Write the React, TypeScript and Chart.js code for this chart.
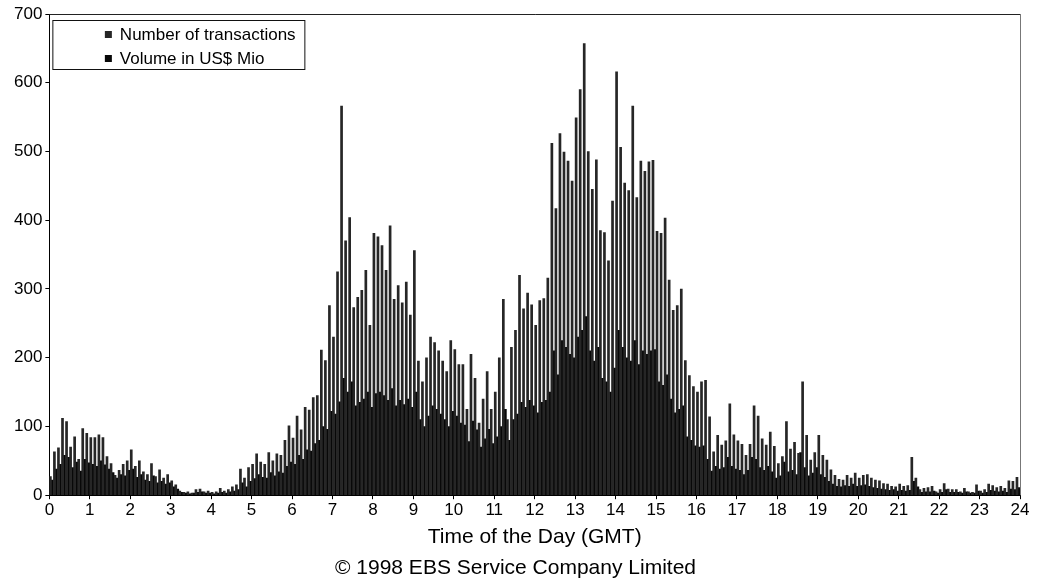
import React, { useEffect, useRef } from "react";
import { Chart, registerables } from "chart.js";

Chart.register(...registerables);

// 6-minute bins, 10 per hour, 0h..24h
const binsPerHour = 10;
const hourTicks = ["0","1","2","3","4","5","6","7","8","9","10","11","12","13","14","15","16","17","18","19","20","21","22","23","24"];
const seriesNames = ["Number of transactions", "Volume in US$ Mio"];
const axisTitle = "Time of the Day (GMT)";
const footer = "\u00A9 1998 EBS Service Company Limited";

const transactions = [
  27, 63, 69, 112, 107, 70, 85, 52, 97, 90, // 0h
  84, 84, 88, 84, 56, 46, 29, 36, 45, 50, // 1h
  66, 42, 50, 34, 30, 46, 27, 37, 25, 30, // 2h
  21, 15, 6, 4, 5, 3, 8, 9, 5, 6, // 3h
  4, 5, 10, 6, 8, 12, 15, 38, 25, 40, // 4h
  45, 60, 48, 45, 62, 50, 60, 58, 80, 101, // 5h
  83, 115, 95, 128, 124, 142, 145, 211, 196, 276, // 6h
  230, 325, 566, 370, 404, 273, 288, 298, 327, 247, // 7h
  381, 376, 363, 327, 392, 285, 305, 280, 310, 262, // 8h
  356, 195, 165, 200, 230, 222, 210, 195, 180, 225, // 9h
  212, 190, 190, 125, 205, 170, 105, 140, 180, 125, // 10h
  150, 200, 285, 110, 215, 240, 320, 271, 294, 277, // 11h
  247, 283, 286, 316, 512, 417, 526, 499, 486, 457, // 12h
  549, 590, 657, 500, 445, 488, 385, 382, 341, 428, // 13h
  616, 506, 454, 443, 566, 433, 486, 471, 485, 487, // 14h
  384, 381, 403, 313, 269, 276, 300, 196, 174, 158, // 15h
  150, 165, 167, 114, 63, 87, 73, 79, 133, 88, // 16h
  79, 74, 58, 74, 130, 115, 82, 73, 92, 71, // 17h
  46, 56, 107, 67, 77, 61, 165, 87, 51, 62, // 18h
  87, 58, 51, 37, 29, 23, 22, 29, 25, 32, // 19h
  25, 29, 30, 25, 22, 21, 17, 16, 13, 12, // 20h
  16, 13, 14, 55, 25, 8, 10, 11, 13, 5, // 21h
  8, 17, 9, 8, 8, 5, 10, 5, 4, 15, // 22h
  6, 8, 16, 14, 11, 13, 10, 21, 20, 26, // 23h
];

const volume = [
  22, 38, 45, 58, 55, 40, 48, 35, 52, 47, // 0h
  45, 42, 50, 44, 38, 33, 25, 30, 28, 36, // 1h
  38, 26, 30, 22, 20, 28, 18, 20, 16, 18, // 2h
  12, 9, 4, 3, 2, 3, 4, 5, 3, 3, // 3h
  2, 3, 4, 3, 5, 6, 8, 18, 12, 20, // 4h
  24, 30, 26, 25, 33, 28, 34, 32, 42, 48, // 5h
  45, 58, 52, 66, 64, 75, 80, 100, 96, 122, // 6h
  118, 136, 170, 150, 165, 130, 135, 140, 150, 128, // 7h
  148, 150, 145, 138, 155, 130, 138, 132, 140, 128, // 8h
  150, 110, 100, 115, 130, 125, 118, 110, 100, 122, // 9h
  115, 105, 102, 78, 108, 95, 70, 82, 96, 75, // 10h
  85, 100, 125, 80, 110, 118, 135, 128, 138, 130, // 11h
  120, 135, 138, 150, 210, 175, 225, 215, 205, 200, // 12h
  230, 240, 260, 210, 195, 215, 170, 165, 150, 185, // 13h
  240, 215, 200, 195, 225, 190, 210, 205, 210, 212, // 14h
  165, 160, 175, 140, 120, 125, 130, 85, 80, 72, // 15h
  70, 72, 52, 35, 42, 38, 40, 55, 42, 38, // 16h
  36, 30, 36, 55, 52, 40, 36, 42, 34, 25, // 17h
  28, 48, 34, 36, 30, 62, 40, 28, 32, 40, // 18h
  30, 26, 20, 16, 13, 12, 14, 13, 16, 13, // 19h
  14, 15, 13, 11, 10, 9, 8, 7, 8, 6, // 20h
  7, 6, 7, 20, 12, 4, 5, 5, 6, 3, // 21h
  4, 8, 4, 4, 4, 3, 5, 3, 3, 6, // 22h
  3, 4, 7, 6, 5, 6, 4, 9, 8, 11, // 23h
];

const colors = ["#262626", "#080808"];
const FONT = "'Liberation Sans', Arial, Helvetica, sans-serif";

const framePlugin = {
  id: "frameAndLegend",
  afterDraw(chart: any) {
    const { ctx, chartArea } = chart;
    const { left, top, right, bottom } = chartArea;
    ctx.save();
    // top and right frame lines
    ctx.strokeStyle = "#222";
    ctx.lineWidth = 1;
    ctx.beginPath();
    ctx.moveTo(left, top + 0.5);
    ctx.lineTo(right + 1, top + 0.5);
    ctx.stroke();
    ctx.strokeStyle = "#777";
    ctx.beginPath();
    ctx.moveTo(Math.round(right) + 0.5, top);
    ctx.lineTo(Math.round(right) + 0.5, bottom);
    ctx.stroke();

    // legend box inside plot
    const bx = left + 3.5;
    const by = top + 6.5;
    const bw = 252;
    const bh = 49;
    ctx.fillStyle = "#fff";
    ctx.fillRect(bx, by, bw, bh);
    ctx.strokeStyle = "#111";
    ctx.strokeRect(bx, by, bw, bh);
    ctx.font = `17px ${FONT}`;
    ctx.textBaseline = "middle";
    ctx.textAlign = "left";
    seriesNames.forEach((name, i) => {
      const cy = by + 14 + i * 24;
      ctx.fillStyle = colors[i];
      ctx.fillRect(bx + 52, cy - 3.5, 7, 7);
      ctx.fillStyle = "#000";
      ctx.fillText(name, bx + 67, cy + 0.5);
    });
    ctx.restore();
  },
};

export default function App() {
  const ref = useRef<HTMLCanvasElement>(null);
  useEffect(() => {
    const times = transactions.map((_, i) => (i + 0.5) / binsPerHour);
    const chart = new Chart(ref.current!, {
      type: "bar",
      data: {
        datasets: [
          {
            label: seriesNames[0],
            data: transactions.map((v, i) => ({ x: times[i], y: v })),
            backgroundColor: colors[0],
            barPercentage: 1,
            categoryPercentage: 1,
          },
          {
            label: seriesNames[1],
            data: volume.map((v, i) => ({ x: times[i], y: v })),
            backgroundColor: colors[1],
            barPercentage: 1,
            categoryPercentage: 1,
          },
        ],
      } as any,
      options: {
        animation: false,
        responsive: true,
        maintainAspectRatio: false,
        layout: { padding: { left: 11, right: 20, top: 14, bottom: 0 } },
        plugins: {
          legend: { display: false },
          tooltip: { enabled: false },
          title: {
            display: true,
            position: "bottom",
            text: footer,
            color: "#000",
            font: { family: FONT, size: 21, weight: "normal" },
            padding: { top: 4, bottom: 1 },
          },
        },
        scales: {
          x: {
            type: "linear",
            min: 0,
            max: 24,
            offset: false,
            grid: { drawOnChartArea: false, offset: false, tickLength: 4, color: "#000" },
            border: { display: true, color: "#000", width: 1 },
            ticks: {
              stepSize: 1,
              autoSkip: false,
              maxRotation: 0,
              padding: 1,
              color: "#000",
              font: { family: FONT, size: 17 },
              callback: (v: any) => hourTicks[Number(v)] ?? "",
            },
            title: {
              display: true,
              text: axisTitle,
              color: "#000",
              font: { family: FONT, size: 21 },
              padding: { top: 3, bottom: 2 },
            },
          },
          y: {
            min: 0,
            max: 700,
            grid: { drawOnChartArea: false, tickLength: 4, color: "#000" },
            border: { display: true, color: "#000", width: 1 },
            ticks: {
              stepSize: 100,
              padding: 3,
              color: "#000",
              font: { family: FONT, size: 17 },
            },
          },
        },
      } as any,
      plugins: [framePlugin],
    });
    return () => chart.destroy();
  }, []);
  return (
    <div style={{ position: "fixed", left: 0, top: 0, width: 1040, height: 582, background: "#fff" }}>
      <canvas ref={ref} />
    </div>
  );
}
